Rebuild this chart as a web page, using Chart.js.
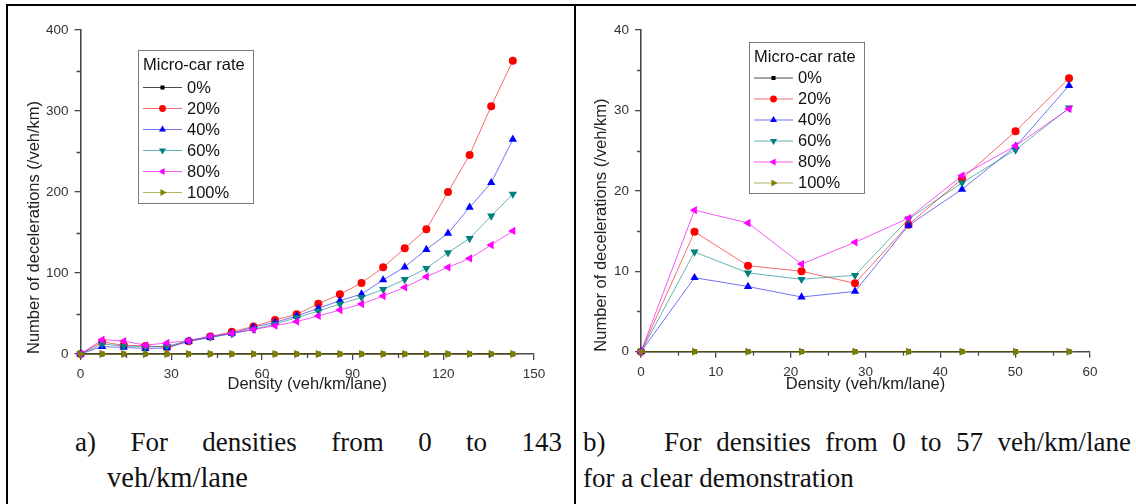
<!DOCTYPE html>
<html>
<head>
<meta charset="utf-8">
<script src="https://cdn.jsdelivr.net/npm/chart.js@4/dist/chart.umd.min.js"></script>
<style>
  html, body { margin: 0; padding: 0; background: #fff; }
  body { width: 1136px; height: 504px; position: relative; overflow: hidden; }
  .rule { position: absolute; background: #000; }
  canvas { position: absolute; }
  .cap {
    position: absolute;
    font-family: "Liberation Serif", "Times New Roman", serif;
    font-size: 27px;
    line-height: 36px;
    color: #111;
    white-space: nowrap;
  }
  .just { text-align: justify; text-align-last: justify; white-space: normal; }
</style>
</head>
<body>
<div class="rule" style="left:6px;top:4px;width:1130px;height:2px"></div>
<div class="rule" style="left:6px;top:4px;width:2px;height:500px"></div>
<div class="rule" style="left:574px;top:4px;width:2px;height:500px"></div>

<canvas id="full" width="560" height="400" style="left:10px;top:8px"></canvas>
<canvas id="zoom" width="556" height="400" style="left:578px;top:8px"></canvas>

<div class="cap just" style="left:75px;top:424px;width:487px">a) For densities from 0 to 143</div>
<div class="cap" style="left:107px;top:460px;font-size:28.5px">veh/km/lane</div>
<div class="cap just" style="left:583px;top:424px;width:548px">b)<span style="display:inline-block;width:44px"></span> For densities from 0 to 57 veh/km/lane</div>
<div class="cap" style="left:583px;top:460px">for a clear demonstration</div>

<script>
// density (veh/km/lane) and decelerations (/veh/km) per micro-car rate
const densities = [0, 7.15, 14.3, 21.45, 28.6, 35.75, 42.9, 50.05, 57.2, 64.35, 71.5,
  78.65, 85.8, 92.95, 100.1, 107.25, 114.4, 121.55, 128.7, 135.85, 143];
const rate0   = [0, 0, 0, 0, 0, 0, 0, 0, 0, 0, 0, 0, 0, 0, 0, 0, 0, 0, 0, 0, 0];
const rate20  = [0, 14.9, 10.7, 10.0, 8.5, 15.8, 21.5, 27.4, 34.0, 42, 49, 62, 73.7,
  87.7, 107, 130.5, 154, 200, 245.7, 306, 362];
const rate40  = [0, 9.2, 8.1, 6.8, 7.5, 15.7, 20.2, 25.5, 33.1, 39, 47, 56.4, 65.8,
  74, 91.4, 107.4, 129, 149, 181, 211.5, 265];
const rate60  = [0, 12.4, 9.8, 9.0, 9.5, 16.5, 21.0, 25.1, 30.3, 37, 44.8, 53, 61.7,
  70, 79.8, 92, 105.8, 125, 142.8, 170.4, 197.5];
const rate80  = [0, 17.6, 16.0, 10.9, 13.6, 16.6, 21.9, 25.6, 30.2, 35, 40, 47, 54.3,
  61.7, 71.6, 82.3, 95.5, 107, 118, 134.6, 152];
const rate100 = [0, 0, 0, 0, 0, 0, 0, 0, 0, 0, 0, 0, 0, 0, 0, 0, 0, 0, 0, 0, 0];

const rateLabels = ['0%', '20%', '40%', '60%', '80%', '100%'];
const rateValues = [rate0, rate20, rate40, rate60, rate80, rate100];
const zoomPoints = 9; // right panel stops at 57 veh/km/lane

const legendTitle = 'Micro-car rate';
const xTitle = 'Density (veh/km/lane)';
const yTitle = 'Number of decelerations (/veh/km)';

const markerColors = ['#000000', '#ff0000', '#0000ff', '#008080', '#ff00ff', '#808000'];
const lineColors = ['rgba(0,0,0,0.7)', 'rgba(240,60,60,0.75)', 'rgba(40,40,240,0.65)',
  'rgba(0,128,128,0.6)', 'rgba(240,0,240,0.65)', 'rgba(128,128,0,0.6)'];
const markerStyles = ['rect', 'circle', 'triangle', 'triangle', 'triangle', 'triangle'];
const markerTurns = [0, 0, 0, 180, -90, 90];
const markerSizes = [3.4, 4, 4.8, 4.8, 4.8, 4.8];

const sans = '"Liberation Sans", Arial, sans-serif';
const axisColor = '#4a4a4a';

function buildSets(count) {
  return rateValues.map((vals, i) => ({
    label: rateLabels[i],
    data: densities.slice(0, count).map((d, j) => ({ x: d, y: vals[j] })),
    borderColor: lineColors[i],
    borderWidth: 1,
    pointBackgroundColor: markerColors[i],
    pointBorderColor: markerColors[i],
    pointBorderWidth: 0,
    pointStyle: markerStyles[i],
    pointRotation: markerTurns[i],
    pointRadius: markerSizes[i],
    tension: 0,
    clip: false,
    order: rateValues.length - i,
  }));
}

// legend drawn inside the plot, Origin style
const boxLegend = {
  id: 'boxLegend',
  afterDatasetsDraw(chart, args, o) {
    const ctx = chart.ctx;
    ctx.save();
    ctx.fillStyle = '#fff';
    ctx.fillRect(o.x, o.y, o.w, o.h);
    ctx.strokeStyle = '#7a7a7a';
    ctx.lineWidth = 1;
    ctx.strokeRect(o.x + 0.5, o.y + 0.5, o.w, o.h);
    ctx.font = '16.5px ' + sans;
    ctx.textBaseline = 'middle';
    ctx.fillStyle = '#111';
    ctx.fillText(legendTitle, o.x + 5, o.titleY);
    chart.data.datasets.forEach((ds, i) => {
      const y = o.rowY + i * o.rowGap;
      ctx.strokeStyle = ds.borderColor;
      ctx.lineWidth = 1;
      ctx.beginPath();
      ctx.moveTo(o.lineX0, y + 0.5);
      ctx.lineTo(o.lineX1, y + 0.5);
      ctx.stroke();
      ctx.fillStyle = ds.pointBackgroundColor;
      Chart.helpers.drawPoint(ctx, {
        pointStyle: ds.pointStyle,
        rotation: ds.pointRotation,
        radius: ds.pointRadius * 0.85,
        borderWidth: 0,
      }, (o.lineX0 + o.lineX1) / 2, y + 0.5);
      ctx.fillStyle = '#111';
      ctx.fillText(ds.label, o.textX, y + 1);
    });
    ctx.restore();
  },
};

// short outward ticks halfway between the major ones
const minorTicks = {
  id: 'minorTicks',
  afterDraw(chart) {
    const { ctx, chartArea } = chart;
    const sx = chart.scales.x, sy = chart.scales.y;
    ctx.save();
    ctx.strokeStyle = axisColor;
    ctx.lineWidth = 1.3;
    ctx.beginPath();
    for (let i = 0; i < sx.ticks.length - 1; i++) {
      const px = Math.round(sx.getPixelForValue((sx.ticks[i].value + sx.ticks[i + 1].value) / 2)) + 0.5;
      ctx.moveTo(px, chartArea.bottom);
      ctx.lineTo(px, chartArea.bottom + 4);
    }
    for (let i = 0; i < sy.ticks.length - 1; i++) {
      const py = Math.round(sy.getPixelForValue((sy.ticks[i].value + sy.ticks[i + 1].value) / 2)) + 0.5;
      ctx.moveTo(chartArea.left, py);
      ctx.lineTo(chartArea.left - 4, py);
    }
    ctx.stroke();
    ctx.restore();
  },
};

function makeChart(id, count, cfg) {
  const axisBase = {
    type: 'linear',
    grid: { drawOnChartArea: false, drawTicks: true, tickLength: 6, color: axisColor, lineWidth: 1.3 },
    border: { display: true, color: axisColor, width: 1.6 },
    ticks: { color: '#333', font: { family: sans, size: 13.5 }, padding: 5 },
  };
  return new Chart(document.getElementById(id), {
    type: 'line',
    data: { datasets: buildSets(count) },
    options: {
      responsive: false,
      animation: false,
      layout: { padding: { top: cfg.top, right: cfg.right, left: 0, bottom: 0 } },
      plugins: { legend: { display: false }, tooltip: { enabled: false }, boxLegend: cfg.legend },
      scales: {
        x: {
          ...axisBase,
          min: 0, max: cfg.xMax,
          ticks: { ...axisBase.ticks, stepSize: cfg.xStep, maxRotation: 0, padding: 6 },
          title: { display: true, text: xTitle, color: '#222', font: { family: sans, size: 16.5 }, padding: { top: 0, bottom: 14 } },
          afterFit: s => { s.height = cfg.xHeight; },
        },
        y: {
          ...axisBase,
          min: 0, max: cfg.yMax,
          ticks: { ...axisBase.ticks, stepSize: cfg.yStep, padding: 6 },
          title: { display: true, text: yTitle, align: 'start', color: '#222', font: { family: sans, size: 16.5 }, padding: { top: cfg.yTitlePad, bottom: 0 } },
          afterFit: s => { s.width = cfg.yWidth; },
        },
      },
    },
    plugins: [boxLegend, minorTicks],
  });
}

makeChart('full', densities.length, {
  xMax: 150, xStep: 30, yMax: 400, yStep: 100,
  top: 22, right: 36, yWidth: 70.5, xHeight: 54, yTitlePad: 15,
  legend: { x: 128, y: 42, w: 115, h: 153, titleY: 57, rowY: 79, rowGap: 21, lineX0: 133, lineX1: 172, textX: 177 },
});

makeChart('zoom', zoomPoints, {
  xMax: 60, xStep: 10, yMax: 40, yStep: 10,
  top: 22, right: 44, yWidth: 63, xHeight: 56.3, yTitlePad: 14,
  legend: { x: 171, y: 34, w: 115, h: 151, titleY: 49, rowY: 69.5, rowGap: 21, lineX0: 176, lineX1: 215, textX: 220 },
});
</script>
</body>
</html>
